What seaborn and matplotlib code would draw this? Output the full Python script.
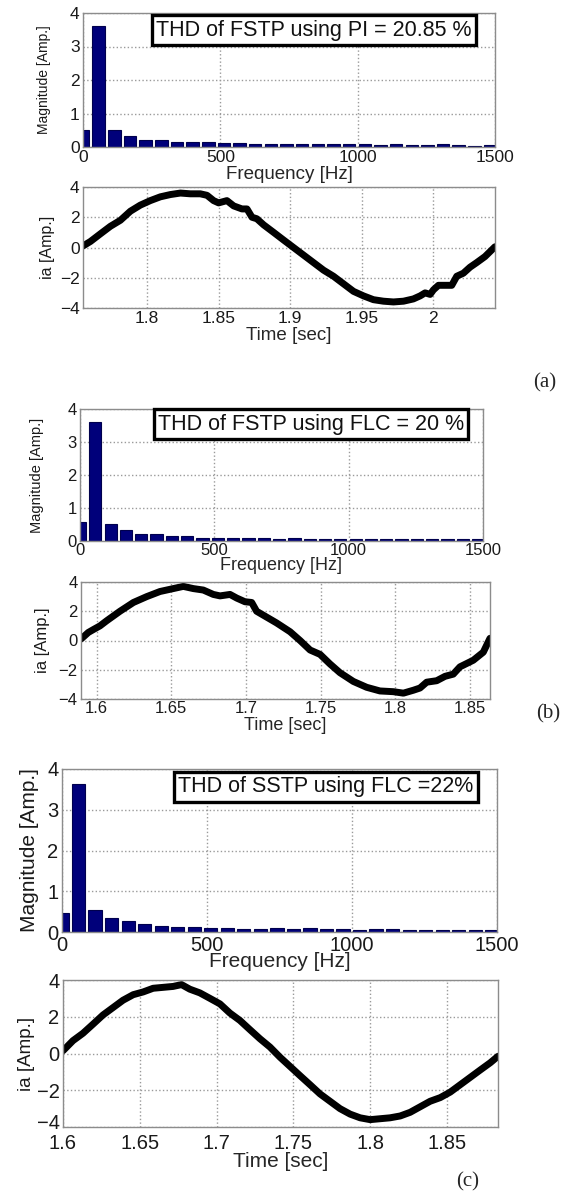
import numpy as np
import pandas as pd
import matplotlib
matplotlib.use("Agg")
import matplotlib.pyplot as plt
import matplotlib.transforms as mtransforms
import seaborn as sns

# harmonic spectrum bins (Hz), same for the three cases
freq = [0, 57, 114, 171, 228, 285, 342, 399, 456, 513, 570, 627, 684, 741,
        798, 855, 912, 969, 1026, 1083, 1140, 1197, 1254, 1311, 1368, 1425, 1482]

mag_a = [0.50, 3.62, 0.50, 0.32, 0.21, 0.21, 0.14, 0.15, 0.14, 0.12, 0.11, 0.10, 0.10, 0.10,
         0.09, 0.09, 0.09, 0.10, 0.09, 0.07, 0.08, 0.06, 0.06, 0.08, 0.07, 0.03, 0.06]
mag_b = [0.57, 3.60, 0.52, 0.32, 0.20, 0.20, 0.15, 0.15, 0.10, 0.10, 0.09, 0.09, 0.09, 0.07,
         0.10, 0.07, 0.07, 0.07, 0.05, 0.05, 0.05, 0.05, 0.05, 0.07, 0.05, 0.07, 0.05]
mag_c = [0.47, 3.62, 0.55, 0.34, 0.26, 0.19, 0.14, 0.13, 0.13, 0.11, 0.11, 0.08, 0.08, 0.09,
         0.07, 0.09, 0.07, 0.07, 0.05, 0.07, 0.07, 0.04, 0.06, 0.05, 0.04, 0.04, 0.04]

# phase current ia
t_a = [1.7553, 1.7605, 1.7674, 1.7744, 1.7814, 1.7884, 1.7953, 1.8023, 1.8093, 1.8163,
       1.8233, 1.8302, 1.8372, 1.8419, 1.8465, 1.8500, 1.8558, 1.8605, 1.8663, 1.8698,
       1.8733, 1.8767, 1.8814, 1.8884, 1.8953, 1.9023, 1.9093, 1.9163, 1.9233, 1.9302,
       1.9372, 1.9442, 1.9512, 1.9581, 1.9651, 1.9721, 1.9791, 1.9860, 1.9907, 1.9942,
       1.9977, 2.0000, 2.0035, 2.0093, 2.0128, 2.0163, 2.0209, 2.0256, 2.0302, 2.0360,
       2.0430]
ia_a = [0.1, 0.4, 0.9, 1.4, 1.8, 2.4, 2.8, 3.1, 3.35, 3.5,
        3.6, 3.55, 3.55, 3.45, 3.1, 2.95, 3.1, 2.75, 2.55, 2.55,
        2.0, 1.9, 1.5, 1.0, 0.5, 0.0, -0.5, -1.0, -1.5, -1.9,
        -2.4, -2.9, -3.2, -3.45, -3.55, -3.6, -3.55, -3.4, -3.2, -3.0,
        -3.1, -2.8, -2.5, -2.5, -2.5, -1.9, -1.7, -1.3, -1.0, -0.6,
        0.05]

t_b = [1.5895, 1.5944, 1.5978, 1.6022, 1.6067, 1.6156, 1.6246, 1.6335, 1.6424, 1.6513,
       1.6580, 1.6647, 1.6714, 1.6781, 1.6826, 1.6893, 1.6938, 1.6993, 1.7038, 1.7071,
       1.7138, 1.7205, 1.7295, 1.7362, 1.7429, 1.7496, 1.7562, 1.7629, 1.7719, 1.7808,
       1.7897, 1.7987, 1.8054, 1.8121, 1.8165, 1.8210, 1.8277, 1.8333, 1.8388, 1.8433,
       1.8522, 1.8589, 1.8634]
ia_b = [0.1, 0.55, 0.75, 1.0, 1.35, 2.0, 2.6, 3.0, 3.35, 3.55,
        3.7, 3.55, 3.45, 3.15, 3.05, 3.15, 2.9, 2.65, 2.6, 2.0,
        1.6, 1.2, 0.6, 0.0, -0.65, -0.95, -1.6, -2.2, -2.8, -3.2,
        -3.45, -3.5, -3.6, -3.4, -3.25, -2.85, -2.75, -2.45, -2.3, -1.8,
        -1.35, -0.8, 0.15]

t_c = [1.6000, 1.6065, 1.6130, 1.6196, 1.6261, 1.6326, 1.6391, 1.6457, 1.6522, 1.6587,
       1.6652, 1.6717, 1.6772, 1.6826, 1.6891, 1.6957, 1.7022, 1.7087, 1.7152, 1.7217,
       1.7283, 1.7348, 1.7413, 1.7478, 1.7543, 1.7609, 1.7674, 1.7739, 1.7804, 1.7870,
       1.7935, 1.8000, 1.8065, 1.8130, 1.8196, 1.8261, 1.8326, 1.8391, 1.8457, 1.8522,
       1.8587, 1.8652, 1.8717, 1.8783, 1.8833]
ia_c = [0.15, 0.7, 1.1, 1.6, 2.1, 2.5, 2.9, 3.2, 3.35, 3.55,
        3.6, 3.65, 3.75, 3.5, 3.3, 3.0, 2.7, 2.2, 1.8, 1.3,
        0.8, 0.35, -0.2, -0.7, -1.2, -1.7, -2.2, -2.6, -3.0, -3.3,
        -3.5, -3.6, -3.55, -3.5, -3.4, -3.2, -2.9, -2.6, -2.4, -2.1,
        -1.7, -1.3, -0.9, -0.5, -0.15]

thd_text = ["THD of FSTP using PI = 20.85 %",
            "THD of FSTP using FLC = 20 %",
            "THD of SSTP using FLC =22%"]
time_ticks = [[1.8, 1.85, 1.9, 1.95, 2.0],
              [1.6, 1.65, 1.7, 1.75, 1.8, 1.85],
              [1.6, 1.65, 1.7, 1.75, 1.8, 1.85]]
time_ticklabels = [["1.8", "1.85", "1.9", "1.95", "2"],
                   ["1.6", "1.65", "1.7", "1.75", "1.8", "1.85"],
                   ["1.6", "1.65", "1.7", "1.75", "1.8", "1.85"]]
time_lims = [(1.7553, 2.0430), (1.5895, 1.8634), (1.6, 1.8833)]

sns.set_style("white")
plt.rcParams['font.family'] = ['Liberation Sans', 'DejaVu Sans']

W, H = 583, 1203
fig = plt.figure(figsize=(W / 100, H / 100), dpi=100)


def px_axes(l, r, t, b):
    return fig.add_axes([l / W, 1 - b / H, (r - l) / W, (b - t) / H])


def style(ax, fs, xpad):
    for s in ax.spines.values():
        s.set_color('#8c8c8c')
        s.set_linewidth(1.0)
    ax.grid(True, linestyle=':', color='#9a9a9a', linewidth=1.0)
    ax.set_axisbelow(True)
    ax.tick_params(direction='in', length=3, color='#8c8c8c', labelsize=fs,
                   labelcolor='#1a1a1a')
    ax.tick_params(axis='x', pad=xpad)
    ax.tick_params(axis='y', pad=2.5)


# pixel boxes of the six panels: (left, right, top, bottom)
spec_boxes = [(83, 495, 13, 147), (80, 483, 409, 541), (62, 497, 769, 932)]
time_boxes = [(83, 495, 187, 308), (81, 490, 582, 699), (63, 498, 980, 1127)]
tick_fs = [12.5, 12, 14.5]
lab_fs = [13.5, 13, 15]
mag_fs = [10, 10.5, 15]
ia_fs = [11.5, 12, 13.5]
box_fs = [15.5, 15.5, 15.5]
spec_xpad = [2.5, 1.5, 3]
time_xpad = [2.5, 1.5, 5]
mag_lx = [-0.095, -0.107, -0.074]
ia_lx = [-0.087, -0.093, -0.083]
freq_ly = [-0.205, -0.185, -0.18]
time_ly = [-0.228, -0.225, -0.232]
box_pos = [(0.56, 0.873), (0.573, 0.886), (0.607, 0.89)]

mags = [mag_a, mag_b, mag_c]
times = [t_a, t_b, t_c]
currents = [ia_a, ia_b, ia_c]

for k in range(3):
    # harmonic spectrum
    ax = px_axes(*spec_boxes[k])
    df = pd.DataFrame({'f': freq, 'mag': mags[k]})
    sns.barplot(data=df, x='f', y='mag', native_scale=True, orient='x', width=0.8,
                color='#00007a', edgecolor='#00004d', linewidth=0.8,
                errorbar=None, saturation=1, ax=ax)
    ax.set_xlim(0, 1500)
    ax.set_ylim(0, 4)
    ax.set_xticks([0, 500, 1000, 1500])
    ax.set_xticklabels(['0', '500', '1000', '1500'])
    ax.set_yticks([0, 1, 2, 3, 4])
    style(ax, tick_fs[k], spec_xpad[k])
    ax.set_xlabel('Frequency [Hz]', fontsize=lab_fs[k], va='center')
    ax.xaxis.set_label_coords(0.5, freq_ly[k])
    ax.set_ylabel('Magnitude [Amp.]', fontsize=mag_fs[k], va='center', color='#1a1a1a')
    ax.yaxis.set_label_coords(mag_lx[k], 0.5)
    ax.text(box_pos[k][0], box_pos[k][1], thd_text[k], transform=ax.transAxes,
            ha='center', va='center', fontsize=box_fs[k], color='#111111',
            bbox=dict(boxstyle='square,pad=0.2', fc='white', ec='black', lw=2.4))

    # time waveform
    ax = px_axes(*time_boxes[k])
    sns.lineplot(x=times[k], y=currents[k], color='black', linewidth=5.0, ax=ax)
    ax.set_xlim(*time_lims[k])
    ax.set_ylim(-4, 4)
    ax.set_xticks(time_ticks[k])
    ax.set_xticklabels(time_ticklabels[k])
    ax.set_yticks([-4, -2, 0, 2, 4])
    ax.set_yticklabels(['\u22124', '\u22122', '0', '2', '4'])
    style(ax, tick_fs[k], time_xpad[k])
    ax.set_xlabel('Time [sec]', fontsize=lab_fs[k], va='center')
    ax.xaxis.set_label_coords(0.5, time_ly[k])
    ax.set_ylabel('ia [Amp.]', fontsize=ia_fs[k], va='center', color='#1a1a1a')
    ax.yaxis.set_label_coords(ia_lx[k], 0.5)
    if k == 2:
        # lift the bottom "-4" a little so it clears the first time label
        lbl = ax.get_yticklabels()[0]
        lbl.set_transform(lbl.get_transform() +
                          mtransforms.ScaledTranslation(0, 4 / 72, fig.dpi_scale_trans))

for lab, x, y in [('(a)', 545, 383), ('(b)', 548, 714), ('(c)', 468, 1182)]:
    fig.text(x / W, 1 - y / H, lab, ha='center', va='center', fontsize=15,
             family=['Liberation Serif', 'DejaVu Serif'])

fig.savefig('out.png', dpi=100)
